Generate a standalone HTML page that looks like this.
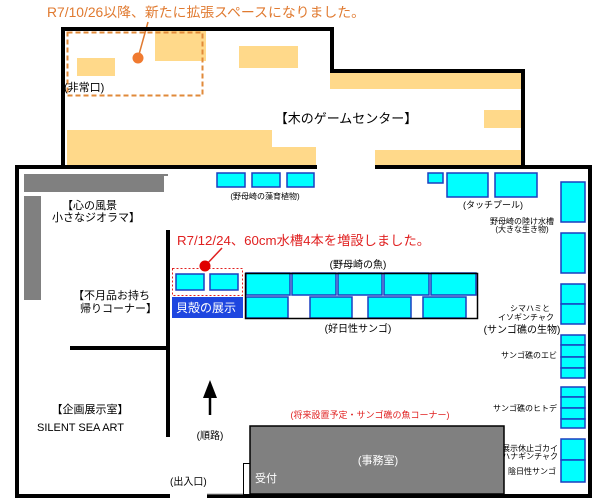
<!DOCTYPE html>
<html><head><meta charset="utf-8"><style>
html,body{margin:0;padding:0;background:#fff}
svg{display:block}
text{font-family:"Liberation Sans","Noto Sans CJK JP",sans-serif}
</style></head><body>
<svg width="600" height="503" viewBox="0 0 600 503" xmlns="http://www.w3.org/2000/svg">
<rect width="600" height="503" fill="#fff"/>
<g fill="#ffd98a">
<rect x="77" y="58" width="38" height="18"/>
<rect x="155" y="31" width="51" height="30"/>
<rect x="239" y="46" width="59" height="22"/>
<rect x="330" y="72" width="191" height="17"/>
<rect x="484" y="110" width="37" height="18"/>
<rect x="67" y="130" width="205" height="17"/>
<rect x="67" y="147" width="249" height="19"/>
<rect x="375" y="150" width="146" height="16"/>
</g>
<rect x="67.5" y="32.5" width="135" height="63" fill="none" stroke="#e08a3a" stroke-width="2" stroke-dasharray="5,3"/>
<line x1="138" y1="58" x2="148" y2="22" stroke="#e07a30" stroke-width="1.5"/>
<circle cx="138" cy="58" r="5.5" fill="#f07a30"/>
<text x="47" y="17" font-size="13.5" fill="#e07a30" textLength="318" lengthAdjust="spacingAndGlyphs">R7/10/26以降、新たに拡張スペースになりました。</text>
<text x="64" y="91" font-size="11" fill="#000">(非常口)</text>
<text x="346" y="123" font-size="13" fill="#000" text-anchor="middle">【木のゲームセンター】</text>
<g stroke="#000" stroke-width="4" fill="none">
<polyline points="63,167 63,29 332,29 332,71 523,71 523,167"/>
<line x1="15" y1="167" x2="317" y2="167"/>
<line x1="375" y1="167" x2="592" y2="167"/>
</g>
<g stroke="#000" stroke-width="4" fill="none">
<line x1="17" y1="167" x2="17" y2="496"/>
<line x1="590" y1="167" x2="590" y2="496"/>
<line x1="15" y1="496" x2="170" y2="496"/>
<line x1="207" y1="496" x2="592" y2="496"/>
<line x1="168" y1="230" x2="168" y2="437"/>
<line x1="70" y1="348" x2="168" y2="348"/>
</g>
<line x1="207" y1="494" x2="243" y2="494" stroke="#aaa" stroke-width="1"/>
<rect x="24" y="174" width="140" height="18" fill="#808080"/>
<rect x="24" y="196" width="17" height="104" fill="#808080"/>
<text x="62" y="209" font-size="11">【心の風景</text>
<text x="52" y="221" font-size="11">小さなジオラマ】</text>
<text x="73" y="299" font-size="11">【不月品お持ち</text>
<text x="80" y="312" font-size="11">帰りコーナー】</text>
<g fill="#00ffff" stroke="#1a3fc0" stroke-width="1.5">
<rect x="217" y="173" width="28" height="14"/>
<rect x="252" y="173" width="28" height="14"/>
<rect x="287" y="173" width="27" height="14"/>
<rect x="428" y="173" width="15" height="10"/>
<rect x="447" y="173" width="41" height="24"/>
<rect x="495" y="173" width="42" height="24"/>
<rect x="176" y="274" width="28" height="16"/>
<rect x="210" y="274" width="28" height="16"/>
<rect x="246" y="273" width="44" height="22"/>
<rect x="292" y="273" width="44" height="22"/>
<rect x="338" y="273" width="44" height="22"/>
<rect x="384" y="273" width="45" height="22"/>
<rect x="431" y="273" width="45" height="22"/>
<rect x="246" y="297" width="42" height="21"/>
<rect x="310" y="297" width="42" height="21"/>
<rect x="368" y="297" width="43" height="21"/>
<rect x="423" y="297" width="43" height="21"/>
<rect x="561" y="182" width="24" height="40"/>
<rect x="561" y="233" width="24" height="40"/>
<rect x="561" y="284" width="24" height="20"/>
<rect x="561" y="304" width="24" height="20"/>
<rect x="561" y="335" width="24" height="10"/>
<rect x="561" y="345" width="24" height="12"/>
<rect x="561" y="357" width="24" height="11"/>
<rect x="561" y="368" width="24" height="10"/>
<rect x="561" y="387" width="24" height="10"/>
<rect x="561" y="397" width="24" height="11"/>
<rect x="561" y="408" width="24" height="11"/>
<rect x="561" y="419" width="24" height="9"/>
<rect x="561" y="439" width="24" height="21"/>
<rect x="561" y="460" width="24" height="22"/>
</g>
<rect x="245.5" y="273.5" width="232" height="45" fill="none" stroke="#000" stroke-width="1.5"/>
<rect x="172.5" y="268.5" width="70" height="27" fill="none" stroke="#e02020" stroke-width="1" stroke-dasharray="2,2"/>
<line x1="205" y1="266" x2="222" y2="248" stroke="#e02020" stroke-width="1.5"/>
<circle cx="205" cy="266" r="5.5" fill="#e00000"/>
<text x="177" y="245" font-size="13" fill="#e02020" textLength="253" lengthAdjust="spacingAndGlyphs">R7/12/24、60cm水槽4本を増設しました。</text>
<rect x="172" y="297" width="71" height="21" fill="#1e46e0"/>
<text x="176" y="312" font-size="12" fill="#fff">貝殻の展示</text>
<text x="358" y="268" font-size="10" text-anchor="middle">(野母崎の魚)</text>
<text x="358" y="332" font-size="10" text-anchor="middle">(好日性サンゴ)</text>
<text x="265" y="199" font-size="8" text-anchor="middle">(野母崎の藻育植物)</text>
<text x="493" y="208" font-size="9" text-anchor="middle">(タッチプール)</text>
<text x="522" y="224" font-size="8" text-anchor="middle">野母崎の陸け水槽</text>
<text x="522" y="232" font-size="8" text-anchor="middle">(大きな生き物)</text>
<text x="530" y="311" font-size="8" text-anchor="middle">シマハミと</text>
<text x="526" y="320" font-size="8" text-anchor="middle">イソギンチャク</text>
<text x="522" y="333" font-size="10" text-anchor="middle">(サンゴ礁の生物)</text>
<text x="557" y="358" font-size="8" text-anchor="end">サンゴ礁のエビ</text>
<text x="557" y="411" font-size="8" text-anchor="end">サンゴ礁のヒトデ</text>
<text x="558" y="451" font-size="8" text-anchor="end">展示休止ゴカイ</text>
<text x="558" y="459" font-size="8" text-anchor="end">とハナギンチャク</text>
<text x="556" y="474" font-size="8" text-anchor="end">陰日性サンゴ</text>
<text x="90" y="413" font-size="11" text-anchor="middle">【企画展示室】</text>
<text x="37" y="431" font-size="11">SILENT  SEA  ART</text>
<line x1="210" y1="392" x2="210" y2="415" stroke="#000" stroke-width="2.5"/>
<polygon points="210,380 203,398 217,398" fill="#000"/>
<text x="210" y="439" font-size="10" text-anchor="middle">(順路)</text>
<text x="370" y="418" font-size="9" fill="#e02020" text-anchor="middle">(将来設置予定・サンゴ礁の魚コーナー)</text>
<rect x="243.5" y="463.5" width="8" height="31" fill="#fff" stroke="#000" stroke-width="1"/>
<rect x="250" y="426" width="254" height="68" fill="#808080" stroke="#000" stroke-width="1.5"/>
<text x="378" y="464" font-size="11" fill="#fff" text-anchor="middle">(事務室)</text>
<text x="255" y="482" font-size="11" fill="#fff">受付</text>
<text x="170" y="485" font-size="10">(出入口)</text>
<line x1="164" y1="175" x2="168" y2="175" stroke="#000" stroke-width="1"/>
</svg>
</body></html>
